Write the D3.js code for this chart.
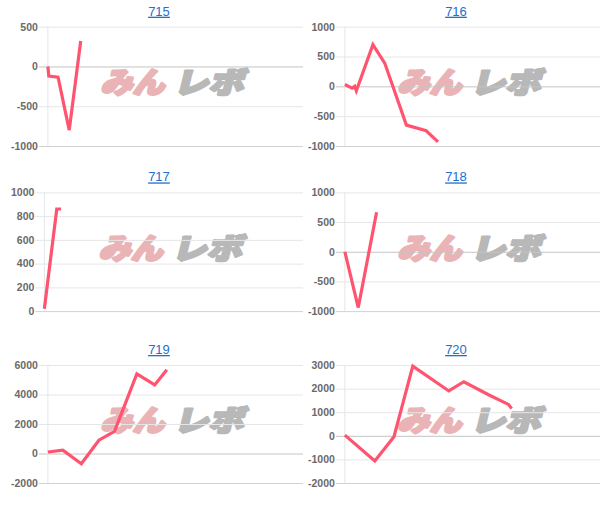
<!DOCTYPE html>
<html><head><meta charset="utf-8">
<script src="https://cdn.jsdelivr.net/npm/d3@7"></script>
<style>body{margin:0;background:#fff}svg{display:block}</style>
</head><body>
<svg id="c" width="613" height="510"></svg>
<script>
// ---- data ----
const machineNames = ["715", "716", "717", "718", "719", "720"];

const games715 = [0, 30, 320, 670, 1030];
const diff715  = [0, -120, -135, -800, 320];
const games716 = [0, 230, 310, 360, 880, 1250, 1930, 2550, 2920];
const diff716  = [30, -30, 0, -75, 700, 390, -650, -745, -930];
const games717 = [0, 384, 517];
const diff717  = [20, 860, 860];
const games718 = [0, 420, 995];
const diff718  = [0, -940, 665];
const games719 = [0, 470, 1050, 1600, 2090, 2790, 3350, 3730];
const diff719  = [100, 220, -700, 900, 1500, 5400, 4650, 5680];
const games720 = [0, 940, 1540, 2130, 3260, 3730, 4520, 5130, 5230];
const diff720  = [30, -1070, -40, 2950, 1900, 2290, 1730, 1330, 1150];

const yTicks715 = [-1000, -500, 0, 500];
const yTicks716 = [-1000, -500, 0, 500, 1000];
const yTicks717 = [0, 200, 400, 600, 800, 1000];
const yTicks718 = [-1000, -500, 0, 500, 1000];
const yTicks719 = [-2000, 0, 2000, 4000, 6000];
const yTicks720 = [-2000, -1000, 0, 1000, 2000, 3000];

const gameDomain = [0, 8000];
const watermarkLeft = "みん";
const watermarkRight = "レボ";

// ---- layout ----
const panels = [
  {name: machineNames[0], g: games715, d: diff715, t: yTicks715},
  {name: machineNames[1], g: games716, d: diff716, t: yTicks716},
  {name: machineNames[2], g: games717, d: diff717, t: yTicks717},
  {name: machineNames[3], g: games718, d: diff718, t: yTicks718},
  {name: machineNames[4], g: games719, d: diff719, t: yTicks719},
  {name: machineNames[5], g: games720, d: diff720, t: yTicks720}
];
const colLeft = [11, 308];
const panelW = 296;
const rowTop = [26.7, 192.4, 365];
const rowH = [119.3, 118.7, 118];

const svg = d3.select("#c");
const labelFont = "Arial, 'Liberation Sans', sans-serif";

panels.forEach((p, i) => {
  const col = i % 2, row = Math.floor(i / 2);
  const left = colLeft[col];
  const top = rowTop[row], h = rowH[row];
  const g = svg.append("g");

  const yFmt = d => String(d);
  const tmp = g.append("g").attr("font-family", labelFont).attr("font-size", 10.5).attr("font-weight", "bold");
  let maxW = 0;
  p.t.forEach(t => { const n = tmp.append("text").text(yFmt(t)); maxW = Math.max(maxW, n.node().getComputedTextLength()); });
  tmp.remove();

  const x0 = left + maxW + 10;
  const x1 = left + panelW - 4;
  const x = d3.scaleLinear().domain(gameDomain).range([x0, x1]);
  const y = d3.scaleLinear().domain(d3.extent(p.t)).range([top + h, top]);

  // title
  g.append("text")
    .attr("x", left + panelW / 2).attr("y", top - 11)
    .attr("text-anchor", "middle")
    .attr("font-family", labelFont).attr("font-size", 13)
    .attr("fill", "#1f6fcf")
    .attr("text-decoration", "underline")
    .text(p.name);

  // watermark (background)
  const wm = g.append("g")
    .attr("transform", `translate(${(x0 + x1) / 2},${top + 52.5}) skewX(-14)`)
    .attr("font-family", "'Noto Sans CJK JP', sans-serif")
    .attr("font-weight", 900)
    .attr("font-size", 29)
    .attr("stroke-width", 2.6)
    .attr("stroke-linejoin", "round");
  wm.append("text").attr("x", -71.5).attr("y", 1)
    .attr("dominant-baseline", "central")
    .attr("textLength", 64).attr("lengthAdjust", "spacingAndGlyphs")
    .attr("fill", "#eab3b5").attr("stroke", "#eab3b5").text(watermarkLeft);
  wm.append("text").attr("x", 1.5).attr("y", 1)
    .attr("dominant-baseline", "central")
    .attr("textLength", 70).attr("lengthAdjust", "spacingAndGlyphs")
    .attr("fill", "#b8b8b8").attr("stroke", "#b8b8b8").text(watermarkRight);

  // y axis with gridlines
  const yAxis = d3.axisLeft(y).tickValues(p.t).tickFormat(yFmt)
    .tickSize(-(x1 - x0)).tickPadding(10);
  const ax = g.append("g").attr("transform", `translate(${x0},0)`).call(yAxis);
  ax.select(".domain").remove();
  ax.selectAll(".tick line")
    .attr("x1", -9)
    .attr("stroke", d => d === 0 ? "#c4c4c4" : "#e6e6e6");
  ax.selectAll(".tick").filter(d => d === y.domain()[0]).select("line").attr("stroke", "#d2d2d2");
  ax.selectAll(".tick text")
    .attr("font-family", labelFont).attr("font-size", 10.5).attr("font-weight", "bold")
    .attr("fill", "#6a6a6a").attr("x", -10);

  // left axis line
  g.append("line").attr("x1", x0).attr("x2", x0).attr("y1", top).attr("y2", top + h)
    .attr("stroke", "#e6e6e6");

  // series line
  const pts = p.g.map((gv, k) => [gv, p.d[k]]);
  g.append("path").datum(pts)
    .attr("fill", "none")
    .attr("stroke", "rgb(255,84,112)")
    .attr("stroke-width", 3.2)
    .attr("d", d3.line().x(d => x(d[0])).y(d => y(d[1])));
});
</script>
</body></html>
